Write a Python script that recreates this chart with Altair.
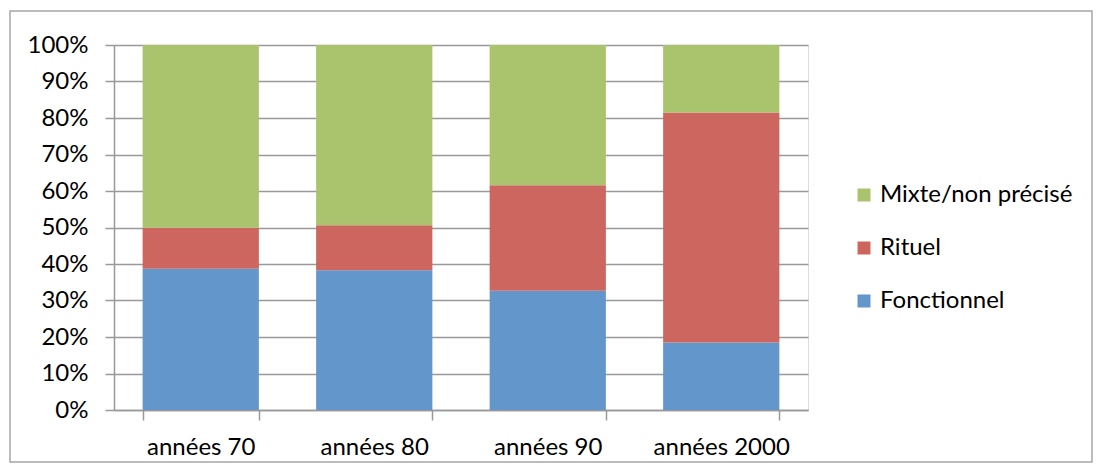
import altair as alt
import pandas as pd

periods = ["années 70", "années 80", "années 90", "années 2000"]
fonctionnel = [38.7, 38.3, 32.7, 18.5]
rituel = [11.2, 12.3, 28.9, 63.0]
mixte = [50.1, 49.4, 38.4, 18.5]

series_names = ["Mixte/non précisé", "Rituel", "Fonctionnel"]
series_colors = ["#A9C46C", "#CC665F", "#6396CA"]
y_ticks = [0, 10, 20, 30, 40, 50, 60, 70, 80, 90, 100]

rows = []
for i, p in enumerate(periods):
    rows.append({"period": p, "serie": "Fonctionnel", "value": fonctionnel[i], "ord": 0})
    rows.append({"period": p, "serie": "Rituel", "value": rituel[i], "ord": 1})
    rows.append({"period": p, "serie": "Mixte/non précisé", "value": mixte[i], "ord": 2})
df = pd.DataFrame(rows)

FONT = "Lato"
FS = 24

bars = alt.Chart(df).mark_bar().encode(
    x=alt.X("period:N", sort=periods,
            scale=alt.Scale(paddingInner=0.33, paddingOuter=0.165),
            axis=alt.Axis(title=None, labelFontSize=FS, labelFont=FONT, labelColor="#000",
                          labelAngle=0, domainColor="#999999", domainWidth=1.5,
                          tickColor="#999999", tickWidth=1.5, tickSize=10,
                          tickBand="extent", labelPadding=15, grid=False)),
    y=alt.Y("value:Q", stack="zero",
            scale=alt.Scale(domain=[0, 100], nice=False),
            axis=alt.Axis(title=None, values=y_ticks, labelExpr="datum.value + '%'",
                          labelFontSize=FS, labelFont=FONT, labelColor="#000",
                          domainColor="#999999", domainWidth=1.5, tickColor="#999999",
                          tickWidth=1.5, tickSize=9, labelPadding=17,
                          grid=True, gridColor="#999999", gridWidth=1.5)),
    color=alt.Color("serie:N",
                    scale=alt.Scale(domain=series_names, range=series_colors),
                    legend=alt.Legend(title=None, orient="none", legendX=738, legendY=138,
                                      symbolType="square", symbolSize=169, symbolStrokeWidth=0,
                                      labelFontSize=FS, labelFont=FONT, labelColor="#000",
                                      labelLimit=400, rowPadding=29, labelOffset=4)),
    order=alt.Order("ord:Q", sort="ascending"),
)

border = alt.Chart(pd.DataFrame({"a": [0]})).mark_rect(
    fill=None, stroke="#A6A6A6", strokeWidth=1.5, clip=False
).encode(
    x=alt.value(-104), x2=alt.value(978), y=alt.value(-34), y2=alt.value(417)
)

chart = alt.layer(border, bars).properties(
    width=694, height=365,
    autosize=alt.AutoSizeParams(type="none"),
    padding={"left": 106, "top": 37, "right": 286, "bottom": 55},
).configure_view(stroke=None).configure(font=FONT)

chart.save("out.html", embed_options={"renderer": "svg", "actions": False})
